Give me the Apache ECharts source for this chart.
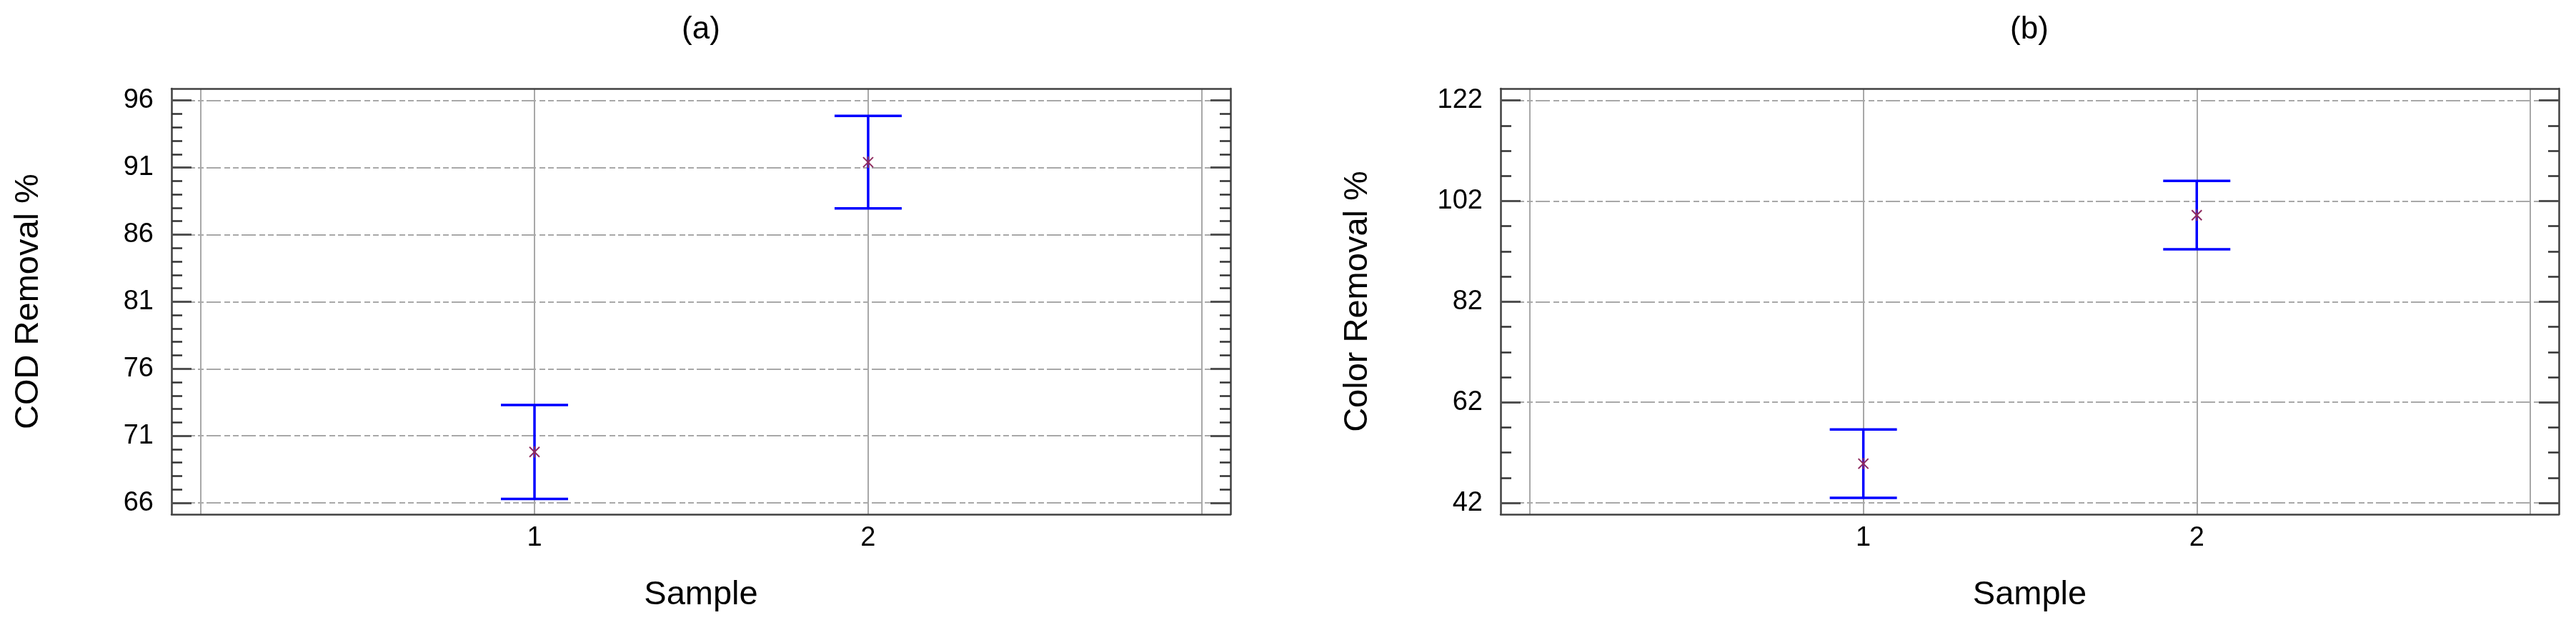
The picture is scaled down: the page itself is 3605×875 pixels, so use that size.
<!DOCTYPE html>
<html>
<head>
<meta charset="UTF-8">
<title>COD / Color Removal</title>
<script src="https://cdn.jsdelivr.net/npm/echarts@6.0.0/dist/echarts.min.js"></script>
<style>
  html, body { margin: 0; padding: 0; background: #fff; }
  #container { width: 3605px; height: 875px; }
</style>
</head>
<body>
<div id="container"></div>
<script>
// ---- data ----
var samples = [1, 2];

// (a) COD removal %: interval low / high and mean
var codLow = [66.3, 87.95];
var codHigh = [73.3, 94.85];
var codMean = [69.8, 91.4];
var codTicks = [66, 71, 76, 81, 86, 91, 96];
var codRange = [65.15, 96.89];

// (b) Color removal %
var colorLow = [43.0, 92.4];
var colorHigh = [56.6, 106.0];
var colorMean = [49.8, 99.2];
var colorTicks = [42, 62, 82, 102, 122];
var colorRange = [39.73, 124.37];

var xGridValues = [0, 1, 2, 3];
var xRange = [-0.088, 3.086];

var FONT = 'Liberation Sans, Arial, sans-serif';
var FRAME = '#404040';
var GRID = '#a8a8a8';

// minor ticks between the major ones
function minorTicks(ticks, step) {
    var out = [];
    for (var i = 0; i < ticks.length - 1; i++) {
        for (var v = ticks[i] + step; v < ticks[i + 1] - 1e-9; v += step) {
            out.push(v);
        }
    }
    return out;
}

function buildAxes(gi, yName, yRange, ticks, minor) {
    var xs = [{
        type: 'value', gridIndex: gi, position: 'bottom',
        min: xRange[0], max: xRange[1],
        name: 'Sample', nameLocation: 'middle', nameGap: 90,
        nameTextStyle: { fontSize: 47, color: '#000', fontFamily: FONT },
        axisLine: { show: true, onZero: false, lineStyle: { color: FRAME, width: 2.5 } },
        axisTick: { show: false, customValues: xGridValues },
        axisLabel: { customValues: samples, margin: 15, fontSize: 38, color: '#000', fontFamily: FONT },
        splitLine: { show: true, lineStyle: { color: GRID, width: 2, type: 'solid' } }
    }, {
        type: 'value', gridIndex: gi, position: 'top',
        min: xRange[0], max: xRange[1],
        axisLine: { show: true, onZero: false, lineStyle: { color: FRAME, width: 2.5 } },
        axisTick: { show: false }, axisLabel: { show: false }, splitLine: { show: false }
    }];

    function yAxis(pos, major) {
        var a = {
            type: 'value', gridIndex: gi, position: pos,
            min: yRange[0], max: yRange[1],
            axisLine: { show: major, onZero: false, lineStyle: { color: FRAME, width: 2.5 } },
            axisTick: {
                show: true, inside: true,
                length: major ? 28 : 15,
                customValues: major ? ticks : minor,
                lineStyle: { color: major ? '#505050' : '#333', width: major ? 3 : 2.5 }
            },
            axisLabel: { show: false },
            splitLine: { show: false }
        };
        if (major && pos === 'left') {
            a.name = yName;
            a.nameLocation = 'middle';
            a.nameGap = 176;
            a.nameTextStyle = { fontSize: 47, color: '#000', fontFamily: FONT };
            a.axisLabel = { show: true, customValues: ticks, margin: 25, fontSize: 38, color: '#000', fontFamily: FONT };
            a.splitLine = { show: true, lineStyle: { color: GRID, width: 2, type: [20, 5, 8, 4, 8, 4] } };
        }
        return a;
    }
    var ys = [yAxis('left', true), yAxis('left', false), yAxis('right', true), yAxis('right', false)];
    return { x: xs, y: ys };
}

function renderErrorBar(params, api) {
    var x = api.value(0);
    var lo = api.coord([x, api.value(1)]);
    var hi = api.coord([x, api.value(2)]);
    var mid = api.coord([x, api.value(3)]);
    var cap = 47;
    var s = 7;
    var bar = { stroke: '#0000ff', lineWidth: 3.5 };
    var mark = { stroke: '#8e2a5e', lineWidth: 2 };
    return {
        type: 'group',
        children: [
            { type: 'line', shape: { x1: lo[0], y1: lo[1], x2: hi[0], y2: hi[1] }, style: bar },
            { type: 'line', shape: { x1: lo[0] - cap, y1: lo[1], x2: lo[0] + cap, y2: lo[1] }, style: bar },
            { type: 'line', shape: { x1: hi[0] - cap, y1: hi[1], x2: hi[0] + cap, y2: hi[1] }, style: bar },
            { type: 'line', shape: { x1: mid[0] - s, y1: mid[1] - s, x2: mid[0] + s, y2: mid[1] + s }, style: mark },
            { type: 'line', shape: { x1: mid[0] - s, y1: mid[1] + s, x2: mid[0] + s, y2: mid[1] - s }, style: mark },
            { type: 'line', shape: { x1: mid[0], y1: mid[1] - s - 1, x2: mid[0], y2: mid[1] + s + 1 }, style: mark }
        ]
    };
}

function rows(low, high, mean) {
    return samples.map(function (s, i) { return [s, low[i], high[i], mean[i]]; });
}

var axA = buildAxes(0, 'COD Removal %', codRange, codTicks, minorTicks(codTicks, 1));
var axB = buildAxes(1, 'Color Removal %', colorRange, colorTicks, minorTicks(colorTicks, 5));

var chart = echarts.init(document.getElementById('container'));
var option = {
    backgroundColor: '#fff',
    animation: false,
    grid: [
        { left: 240, right: 1883, top: 124, bottom: 155 },
        { left: 2100, right: 24, top: 124, bottom: 155 }
    ],
    xAxis: axA.x.concat(axB.x),
    yAxis: axA.y.concat(axB.y),
    graphic: [
        { type: 'text', x: 981, y: 42, style: { text: '(a)', fontSize: 44, fontFamily: FONT, fill: '#000', textAlign: 'center', textVerticalAlign: 'middle' } },
        { type: 'text', x: 2840, y: 42, style: { text: '(b)', fontSize: 44, fontFamily: FONT, fill: '#000', textAlign: 'center', textVerticalAlign: 'middle' } }
    ],
    series: [{
        type: 'custom', name: 'COD', xAxisIndex: 0, yAxisIndex: 0,
        renderItem: renderErrorBar,
        encode: { x: 0, y: [1, 2, 3] },
        data: rows(codLow, codHigh, codMean)
    }, {
        type: 'custom', name: 'Color', xAxisIndex: 2, yAxisIndex: 4,
        renderItem: renderErrorBar,
        encode: { x: 0, y: [1, 2, 3] },
        data: rows(colorLow, colorHigh, colorMean)
    }]
};
chart.setOption(option);
</script>
</body>
</html>
